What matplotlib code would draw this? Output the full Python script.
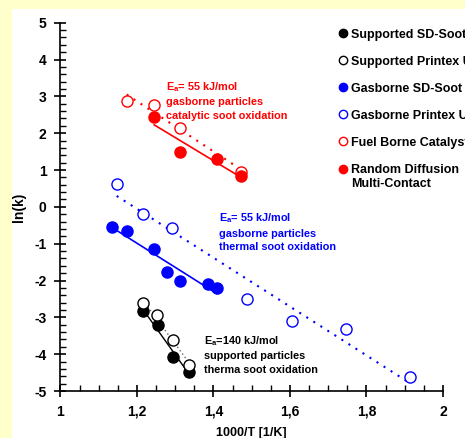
import numpy as np
import matplotlib
matplotlib.use("Agg")
import matplotlib.pyplot as plt
from matplotlib.ticker import MultipleLocator, FuncFormatter
from matplotlib.lines import Line2D
from matplotlib.legend_handler import HandlerLine2D

plt.rcParams['font.family'] = ['Liberation Sans', 'DejaVu Sans']
plt.rcParams['font.weight'] = 'bold'
plt.rcParams['mathtext.fontset'] = 'custom'
plt.rcParams['mathtext.rm'] = 'Liberation Sans:bold'

# supported particles, thermal oxidation
sup_sd_x = [1.2165, 1.254, 1.294, 1.337]
sup_sd_y = [-2.83, -3.21, -4.09, -4.49]
sup_px_x = [1.215, 1.253, 1.294, 1.337]
sup_px_y = [-2.62, -2.94, -3.61, -4.30]

# gasborne particles, thermal oxidation
gas_sd_x = [1.134, 1.174, 1.245, 1.278, 1.312, 1.385, 1.409]
gas_sd_y = [-0.555, -0.66, -1.135, -1.77, -2.01, -2.10, -2.20]
gas_px_x = [1.147, 1.2165, 1.292, 1.487, 1.606, 1.746, 1.914]
gas_px_y = [0.62, -0.195, -0.58, -2.50, -3.10, -3.32, -4.63]

# catalytic oxidation
fbc_x = [1.173, 1.245, 1.312, 1.472]
fbc_y = [2.88, 2.76, 2.14, 0.95]
rdmc_x = [1.245, 1.312, 1.409, 1.472]
rdmc_y = [2.43, 1.48, 1.29, 0.83]

RED = '#ff0000'
BLUE = '#0000ff'

fig = plt.figure(figsize=(4.65, 4.38), dpi=100)
fig.patch.set_facecolor('#ffffcc')
fig.patches.append(plt.Rectangle((12 / 465, 0), 1, 1 - 9 / 438, transform=fig.transFigure,
                                 facecolor='white', edgecolor='none', zorder=-10))
ax = fig.add_axes([0.130, 0.1073, 0.8227, 0.8409])
ax.set_facecolor('none')


def fit_line(x, y, **kw):
    p = np.polyfit(x, y, 1)
    xs = np.array([min(x), max(x)])
    ax.plot(xs, np.polyval(p, xs), **kw)


fit_line(sup_sd_x, sup_sd_y, color='black', lw=1)
fit_line(sup_px_x, sup_px_y, color='#666666', lw=1, ls=(0, (1, 2)))
fit_line(gas_sd_x, gas_sd_y, color=BLUE, lw=1.2)
fit_line(gas_px_x, gas_px_y, color=BLUE, lw=1.5, ls=(0, (1, 3)))
fit_line(fbc_x, fbc_y, color=RED, lw=1.5, ls=(0, (1, 3)))
fit_line(rdmc_x, rdmc_y, color=RED, lw=1.2)

ms = 8
ax.plot(sup_sd_x, sup_sd_y, 'o', color='black', ms=ms, ls='none')
ax.plot(sup_px_x, sup_px_y, 'o', mfc='white', mec='black', mew=1, ms=ms, ls='none')
ax.plot(gas_sd_x, gas_sd_y, 'o', color=BLUE, ms=ms, ls='none')
ax.plot(gas_px_x, gas_px_y, 'o', mfc='white', mec=BLUE, mew=1, ms=ms, ls='none')
ax.plot(fbc_x, fbc_y, 'o', mfc='white', mec=RED, mew=1, ms=ms, ls='none')
ax.plot(rdmc_x, rdmc_y, 'o', color=RED, ms=ms, ls='none')

ax.set_xlim(1, 2)
ax.set_ylim(-5, 5)
ax.spines['top'].set_visible(False)
ax.spines['right'].set_visible(False)
ax.spines['left'].set_linewidth(1.2)
ax.spines['bottom'].set_linewidth(1.2)
ax.xaxis.set_major_locator(MultipleLocator(0.2))
ax.xaxis.set_minor_locator(MultipleLocator(0.05))
ax.yaxis.set_major_locator(MultipleLocator(1))
ax.yaxis.set_minor_locator(MultipleLocator(0.2))
fmt = FuncFormatter(lambda v, p: ('%g' % round(v, 2)).replace('.', ','))
ax.xaxis.set_major_formatter(fmt)
ax.yaxis.set_major_formatter(fmt)
ax.tick_params(which='major', direction='inout', length=8, width=1.2, labelsize=10, pad=6)
ax.tick_params(which='minor', direction='in', length=4, width=1)
for lab in ax.get_xticklabels() + ax.get_yticklabels():
    lab.set_fontweight('bold')

ax.set_xlabel('1000/T [1/K]', fontsize=9, fontweight='bold', labelpad=6)
ax.set_ylabel('ln(k)', fontsize=10, fontweight='bold', labelpad=6)

tkw = dict(fontsize=7.8, fontweight='bold', va='top', ha='left', linespacing=1.45)
ax.text(1.276, 3.45, '$\\mathrm{E_a}$= 55 kJ/mol\ngasborne particles\ncatalytic soot oxidation',
        color=RED, **tkw)
ax.text(1.414, -0.12, '$\\mathrm{E_a}$= 55 kJ/mol\ngasborne particles\nthermal soot oxidation',
        color=BLUE, **tkw)
ax.text(1.375, -3.45, '$\\mathrm{E_a}$=140 kJ/mol\nsupported particles\ntherma soot oxidation',
        color='black', **tkw)


class TopLineHandler(HandlerLine2D):
    # put the marker next to the first line of a two-line label
    def create_artists(self, legend, orig_handle, xdescent, ydescent, width, height,
                       fontsize, trans):
        return super().create_artists(legend, orig_handle, xdescent, ydescent - 1.2 * fontsize,
                                      width, height, fontsize, trans)


handles = [
    Line2D([], [], marker='o', ls='none', color='black', ms=6),
    Line2D([], [], marker='o', ls='none', mfc='white', mec='black', ms=6),
    Line2D([], [], marker='o', ls='none', color=BLUE, ms=6),
    Line2D([], [], marker='o', ls='none', mfc='white', mec=BLUE, ms=6),
    Line2D([], [], marker='o', ls='none', mfc='white', mec=RED, ms=6),
    Line2D([], [], marker='o', ls='none', color=RED, ms=6),
]
labels = ['Supported SD-Soot', 'Supported Printex U', 'Gasborne SD-Soot',
          'Gasborne Printex U', 'Fuel Borne Catalyst', 'Random Diffusion\nMulti-Contact']
ax.legend(handles, labels, loc='upper left', bbox_to_anchor=(0.715, 0.997), frameon=False,
          prop={'size': 9, 'weight': 'bold'}, handlelength=0.6, handletextpad=0.35,
          labelspacing=1.2, borderaxespad=0,
          handler_map={handles[-1]: TopLineHandler()})

fig.savefig('out.png', dpi=100, facecolor=fig.get_facecolor())
